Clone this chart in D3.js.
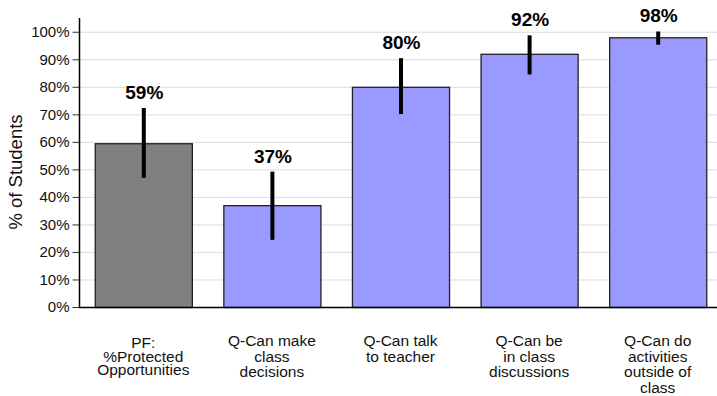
<!DOCTYPE html>
<html>
<head>
<meta charset="utf-8">
<script src="https://cdn.jsdelivr.net/npm/d3@7"></script>
<style>
  body { margin: 0; background: #fff; }
  svg { display: block; font-family: "Liberation Sans", Arial, sans-serif; }
</style>
</head>
<body>
<div id="chart"></div>
<script>
const categories = [
    ["PF:", "%Protected", "Opportunities"],
    ["Q-Can make", "class", "decisions"],
    ["Q-Can talk", "to teacher"],
    ["Q-Can be", "in class", "discussions"],
    ["Q-Can do", "activities", "outside of", "class"]
];
const values = [59.5, 37, 80, 92, 98];
const labels = ["59%", "37%", "80%", "92%", "98%"];
const errLow = [46.9, 24.4, 70.1, 84.5, 95.3];
const errHigh = [72.3, 49.2, 90.4, 98.7, 100.1];
const barColors = ["#808080", "#9999ff", "#9999ff", "#9999ff", "#9999ff"];
const yTicks = [0, 10, 20, 30, 40, 50, 60, 70, 80, 90, 100];

const W = 717, H = 396;
const plotLeft = 79, plotBottom = 307, plotTop = 18;

const data = values.map((v, i) => ({
    i, v, label: labels[i], lo: errLow[i], hi: errHigh[i], color: barColors[i], cat: categories[i]
}));

const svg = d3.select("#chart").append("svg")
    .attr("width", W)
    .attr("height", H);

const x = d3.scaleBand()
    .domain(data.map(d => d.i))
    .range([plotLeft, 722])
    .paddingInner(0.245)
    .paddingOuter(0.1225);

const y = d3.scaleLinear()
    .domain([0, 105])
    .range([plotBottom, plotTop]);

// grid
svg.append("g")
    .selectAll("line")
    .data(yTicks.filter(t => t > 0))
    .join("line")
    .attr("x1", plotLeft)
    .attr("x2", W)
    .attr("y1", d => y(d) + 0.5)
    .attr("y2", d => y(d) + 0.5)
    .attr("stroke", "#dcdcdc")
    .attr("stroke-width", 1);

// y axis
const yAxis = svg.append("g")
    .attr("transform", `translate(${plotLeft + 0.5},0)`)
    .call(d3.axisLeft(y).tickValues(yTicks).tickSize(7).tickPadding(3).tickFormat(d => d + "%"));
yAxis.select(".domain").remove();
yAxis.selectAll(".tick line").attr("stroke", "#333");
yAxis.selectAll(".tick text")
    .style("font-size", "15px")
    .style("fill", "#111")
    .style("font-family", "'Liberation Sans', Arial, sans-serif");

svg.append("text")
    .attr("transform", `translate(22,172) rotate(-90)`)
    .attr("text-anchor", "middle")
    .style("font-size", "18.5px")
    .style("fill", "#111")
    .text("% of Students");

// bars
svg.append("g")
    .selectAll("rect")
    .data(data)
    .join("rect")
    .attr("x", d => x(d.i) + 0.5)
    .attr("y", d => y(d.v) + 0.5)
    .attr("width", x.bandwidth())
    .attr("height", d => y(0) - y(d.v))
    .attr("fill", d => d.color)
    .attr("stroke", "#222")
    .attr("stroke-width", 1.3);

// axis lines
svg.append("line")
    .attr("x1", plotLeft + 0.5).attr("x2", plotLeft + 0.5)
    .attr("y1", plotTop).attr("y2", plotBottom + 1)
    .attr("stroke", "#000").attr("stroke-width", 1.5);
svg.append("line")
    .attr("x1", plotLeft).attr("x2", W)
    .attr("y1", plotBottom + 0.5).attr("y2", plotBottom + 0.5)
    .attr("stroke", "#000").attr("stroke-width", 1.5);

// error bars
svg.append("g")
    .selectAll("line")
    .data(data)
    .join("line")
    .attr("x1", d => x(d.i) + x.bandwidth() / 2 + 0.5)
    .attr("x2", d => x(d.i) + x.bandwidth() / 2 + 0.5)
    .attr("y1", d => y(d.lo))
    .attr("y2", d => y(d.hi))
    .attr("stroke", "#000")
    .attr("stroke-width", 4);

// value labels
svg.append("g")
    .selectAll("text")
    .data(data)
    .join("text")
    .attr("x", d => x(d.i) + x.bandwidth() / 2 + 1)
    .attr("y", d => y(d.hi) - 9)
    .attr("text-anchor", "middle")
    .style("font-size", "19px")
    .style("font-weight", "bold")
    .style("fill", "#000")
    .text(d => d.label);

// category labels
const cats = svg.append("g")
    .selectAll("text")
    .data(data)
    .join("text")
    .attr("x", d => x(d.i) + x.bandwidth() / 2)
    .attr("y", d => d.i === 0 ? 348 : 346)
    .attr("text-anchor", "middle")
    .style("font-size", "15.5px")
    .style("fill", "#111");

cats.selectAll("tspan")
    .data(d => d.cat.map((t, j) => ({ t, j, n: d.i })))
    .join("tspan")
    .attr("x", function () { return d3.select(this.parentNode).attr("x"); })
    .attr("dy", d => d.j === 0 ? 0 : (d.n === 0 ? 13.5 : 15.5))
    .text(d => d.t);
</script>
</body>
</html>
